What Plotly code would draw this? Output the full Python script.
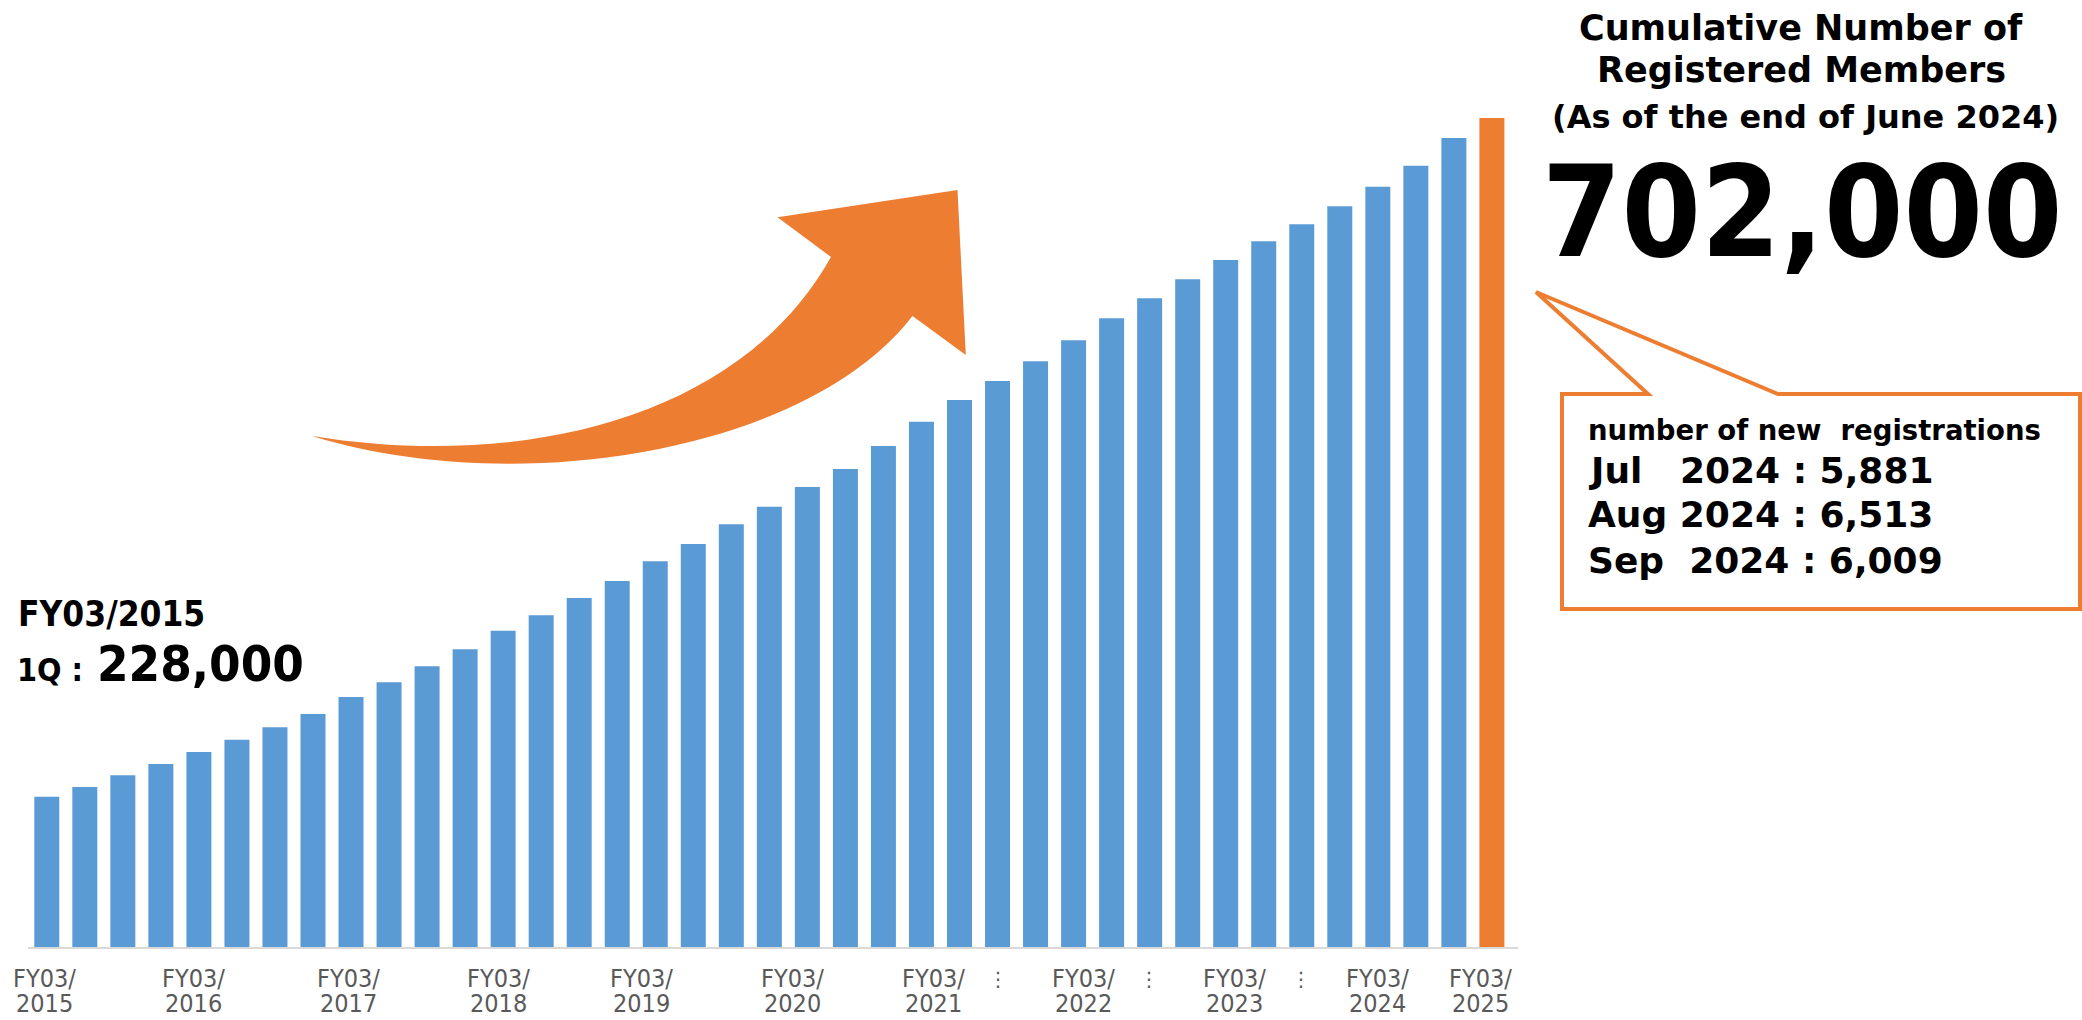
import plotly.graph_objects as go

W, H = 2082, 1020

# ---------------- data ----------------
bar_index = list(range(1, 40))
members = [228000, 234800, 242900, 250800, 259200, 267800, 276500, 285800, 297600,
           307900, 319100, 330900, 343900, 354700, 366800, 378600, 392400, 404500,
           418200, 430500, 444300, 456900, 472900, 489900, 505100, 518300, 532100,
           546700, 562100, 576100, 589400, 602800, 615900, 627800, 640300, 654000,
           668700, 688000, 702000]
bar_colors = ["#5B9BD5"] * 38 + ["#ED7D31"]

tick_pos = [0.95, 4.85, 8.93, 12.87, 16.63, 20.62, 24.32, 28.27, 32.24, 36.0, 38.69]
tick_line1 = ["FY03/"] * 11
tick_line2 = ["2015", "2016", "2017", "2018", "2019", "2020", "2021", "2022", "2023", "2024", "2025"]
gap_pos = [26.0, 29.99, 33.98]

y_min, y_max = 122820, 784414

callout_lines = ["number of new\u00a0\u00a0registrations",
                 "Jul\u00a0\u00a0\u00a02024 : 5,881",
                 "Aug 2024 : 6,513",
                 "Sep\u00a0\u00a02024 : 6,009"]

# ---------------- helpers ----------------
def px(x):
    return x / W

def py(y):
    return 1 - y / H

def path(cmds):
    out = []
    for c in cmds:
        if isinstance(c, str):
            out.append(c)
        else:
            out.append(f"{px(c[0]):.5f},{py(c[1]):.5f}")
    return " ".join(out)

fig = go.Figure()
fig.add_trace(go.Bar(x=bar_index, y=members, marker=dict(color=bar_colors, line=dict(width=0)),
                     hoverinfo="y"))

fig.update_layout(
    width=W, height=H,
    margin=dict(l=0, r=0, t=0, b=0),
    paper_bgcolor="white", plot_bgcolor="white",
    showlegend=False,
    bargap=0.343,
    xaxis=dict(domain=[28 / W, 1518 / W], range=[0.506, 39.686], showline=True,
               linecolor="#D9D9D9", linewidth=2, showticklabels=False, showgrid=False,
               zeroline=False, ticks=""),
    yaxis=dict(domain=[1 - 947.3 / H, 1], range=[y_min, y_max], visible=False),
)

annotations = []
GRAY = "#595959"
TICKFONT = "DejaVu Sans Condensed, DejaVu Sans"
for xp, t1, t2 in zip(tick_pos, tick_line1, tick_line2):
    annotations.append(dict(x=xp, xref="x", y=py(978), yref="paper", text=t1, showarrow=False,
                            xanchor="center", yanchor="middle",
                            font=dict(family=TICKFONT, size=25, color=GRAY)))
    annotations.append(dict(x=xp, xref="x", y=py(1003.5), yref="paper", text=t2, showarrow=False,
                            xanchor="center", yanchor="middle",
                            font=dict(family=TICKFONT, size=25, color=GRAY)))
for xp in gap_pos:
    annotations.append(dict(x=xp, xref="x", y=py(979), yref="paper", text="⋮", showarrow=False,
                            xanchor="center", yanchor="middle",
                            font=dict(family="DejaVu Sans", size=20, color=GRAY)))

BOLD = "DejaVu Sans"
COND = "DejaVu Sans Condensed, DejaVu Sans"

def txt(x, y, s, size, family=BOLD, xanchor="center"):
    annotations.append(dict(x=px(x), xref="paper", y=py(y), yref="paper", text=s, showarrow=False,
                            xanchor=xanchor, yanchor="middle",
                            font=dict(family=family, size=size, color="black", weight="bold")))

# title
txt(1800.5, 40 - 0.35 * 35, "Cumulative Number of", 35)
txt(1801, 82 - 0.35 * 35, "Registered Members", 35)
txt(1805, 128.3 - 0.35 * 32, "(As of the end of June 2024)", 32)
txt(1801.7, 256 - 0.35 * 127, "702,000", 127, family=COND)

# left label
txt(16, 626.7 - 0.35 * 35, "FY03/2015", 35, family=COND, xanchor="left")
txt(15, 681 - 0.35 * 32, "1Q :", 32, family=COND, xanchor="left")
txt(95, 681 - 0.35 * 50.5, "228,000", 50.5, family=COND, xanchor="left")

# callout text
txt(1586, 440 - 0.35 * 27.5, callout_lines[0], 27.5, xanchor="left")
for s, base in zip(callout_lines[1:], [483.3, 527.3, 572.7]):
    txt(1586, base - 0.35 * 36, s, 36, xanchor="left")

fig.update_layout(annotations=annotations)

ORANGE = "#ED7D31"
arrow = path(["M", (312, 436),
              "C", (520, 470), (740, 420), (831, 257),
              "L", (777.5, 217.3),
              "L", (957.5, 190),
              "L", (965.8, 355),
              "L", (912.5, 316),
              "C", (810, 450), (520, 500), (312, 436),
              "Z"])
callout = path(["M", (1562, 394), "L", (1648, 394), "L", (1536, 292), "L", (1778, 394),
                "L", (2080, 394), "L", (2080, 609), "L", (1562, 609), "Z"])

fig.update_layout(shapes=[
    dict(type="path", xref="paper", yref="paper", path=arrow, fillcolor=ORANGE,
         line=dict(width=0), layer="above"),
    dict(type="path", xref="paper", yref="paper", path=callout, fillcolor="white",
         line=dict(color=ORANGE, width=4), layer="below"),
])

fig.write_html(
    "out.html",
    config={"displayModeBar": False},
    post_script="document.body.style.margin='0';document.body.style.padding='0';"
                "document.body.style.overflow='hidden';",
)
